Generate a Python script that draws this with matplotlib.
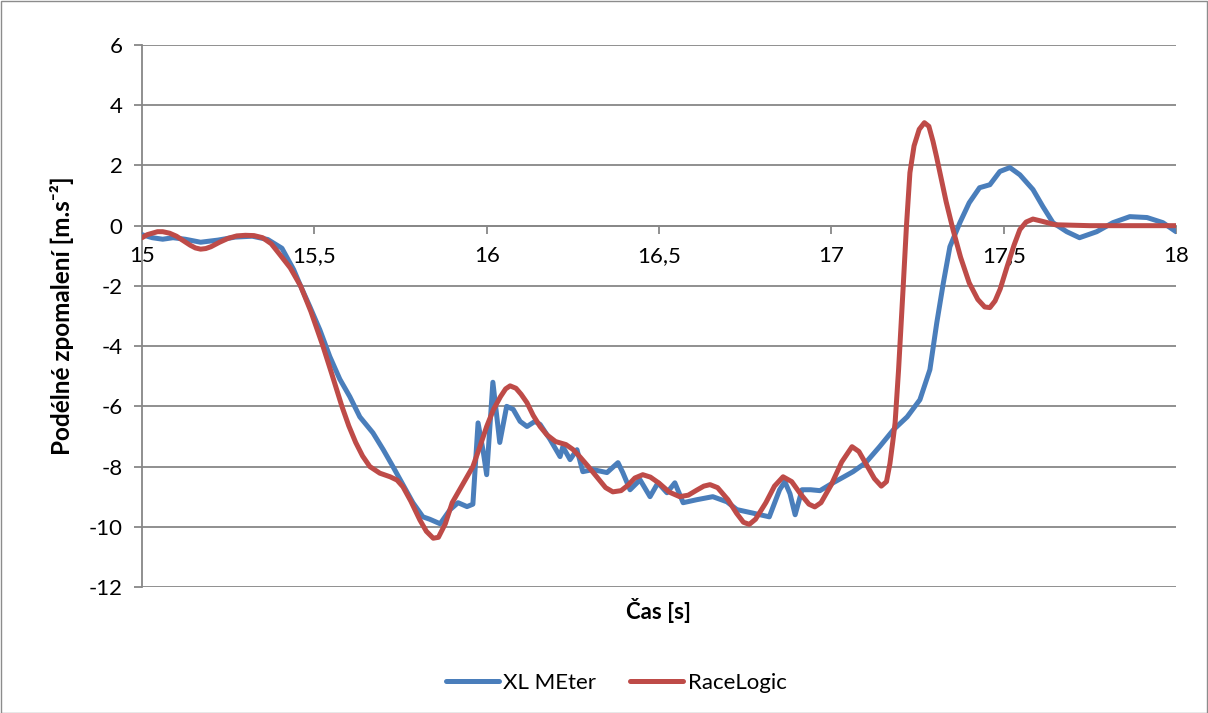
import matplotlib
matplotlib.use('Agg')
import matplotlib.pyplot as plt
from matplotlib.patches import Rectangle

# XL Meter - namerene podelne zpomaleni
xl_time = [15.0, 15.03, 15.06, 15.09, 15.125, 15.17, 15.22, 15.27, 15.32, 15.365, 15.406,
           15.44, 15.46, 15.487, 15.516, 15.545, 15.574, 15.603, 15.632, 15.67, 15.70,
           15.728, 15.757, 15.786, 15.815, 15.835, 15.865, 15.894, 15.917, 15.943, 15.96,
           15.975, 15.99, 16.0, 16.018, 16.038, 16.058, 16.077, 16.097, 16.117, 16.14,
           16.155, 16.184, 16.213, 16.221, 16.242, 16.262, 16.279, 16.308, 16.349, 16.381,
           16.395, 16.416, 16.445, 16.474, 16.497, 16.523, 16.546, 16.57, 16.61, 16.656,
           16.697, 16.726, 16.77, 16.82, 16.85, 16.865, 16.88, 16.895, 16.915, 16.94,
           16.967, 17.005, 17.035, 17.063, 17.1, 17.14, 17.18, 17.22, 17.257, 17.286,
           17.306, 17.325, 17.344, 17.373, 17.40, 17.43, 17.46, 17.489, 17.518, 17.547,
           17.585, 17.614, 17.643, 17.683, 17.72, 17.77, 17.817, 17.866, 17.916, 17.962,
           18.0]
xl_acc = [-0.3, -0.4, -0.45, -0.4, -0.45, -0.55, -0.48, -0.38, -0.35, -0.46, -0.75,
          -1.46, -2.0, -2.69, -3.46, -4.35, -5.1, -5.68, -6.35, -6.88, -7.44,
          -8.0, -8.6, -9.2, -9.67, -9.75, -9.9, -9.43, -9.2, -9.33, -9.25,
          -6.55, -7.5, -8.27, -5.2, -7.2, -6.0, -6.1, -6.5, -6.67, -6.5,
          -6.6, -7.1, -7.67, -7.34, -7.77, -7.44, -8.17, -8.1, -8.2, -7.87,
          -8.2, -8.77, -8.44, -9.0, -8.54, -8.87, -8.54, -9.2, -9.1, -9.0,
          -9.17, -9.43, -9.54, -9.67, -8.77, -8.5, -8.9, -9.6, -8.77, -8.77,
          -8.8, -8.54, -8.35, -8.17, -7.87, -7.34, -6.78, -6.35, -5.78, -4.78,
          -3.22, -1.9, -0.7, 0.1, 0.76, 1.26, 1.36, 1.8, 1.93, 1.69,
          1.2, 0.63, 0.1, -0.2, -0.4, -0.2, 0.1, 0.3, 0.27, 0.1,
          -0.2]

# RaceLogic
rl_time = [15.0, 15.015, 15.03, 15.045, 15.06, 15.08, 15.1, 15.12, 15.14, 15.155, 15.17,
           15.185, 15.2, 15.225, 15.25, 15.275, 15.3, 15.325, 15.35, 15.375, 15.40,
           15.43, 15.46, 15.49, 15.525, 15.55, 15.58, 15.60, 15.62, 15.64, 15.661,
           15.69, 15.72, 15.74, 15.757, 15.78, 15.806, 15.825, 15.845, 15.86, 15.88,
           15.90, 15.93, 15.96, 15.98, 16.0, 16.02, 16.04, 16.055, 16.068, 16.085,
           16.1, 16.117, 16.135, 16.155, 16.175, 16.2, 16.23, 16.25, 16.27, 16.295,
           16.32, 16.345, 16.366, 16.39, 16.41, 16.43, 16.453, 16.475, 16.5, 16.53,
           16.56, 16.585, 16.61, 16.63, 16.648, 16.67, 16.7, 16.725, 16.745, 16.762,
           16.78, 16.81, 16.835, 16.86, 16.885, 16.91, 16.935, 16.952, 16.97, 17.0,
           17.03, 17.06, 17.08, 17.1, 17.125, 17.145, 17.16, 17.17, 17.178, 17.185,
           17.195, 17.208, 17.218, 17.228, 17.24, 17.255, 17.27, 17.283, 17.295, 17.305,
           17.315, 17.333, 17.353, 17.375, 17.40, 17.425, 17.445, 17.46, 17.475, 17.49,
           17.51, 17.53, 17.547, 17.565, 17.585, 17.61, 17.65, 17.75, 18.0]
rl_acc = [-0.4, -0.3, -0.25, -0.2, -0.2, -0.25, -0.35, -0.5, -0.65, -0.74, -0.78,
          -0.76, -0.7, -0.55, -0.42, -0.34, -0.32, -0.33, -0.4, -0.6, -0.96,
          -1.4, -2.0, -2.85, -4.0, -4.9, -6.0, -6.65, -7.2, -7.65, -8.0,
          -8.22, -8.34, -8.45, -8.67, -9.15, -9.77, -10.15, -10.38, -10.35, -9.9,
          -9.2, -8.6, -8.0, -7.35, -6.67, -6.1, -5.68, -5.42, -5.32, -5.4,
          -5.6, -5.88, -6.3, -6.67, -6.95, -7.17, -7.27, -7.43, -7.67, -8.0,
          -8.35, -8.7, -8.84, -8.8, -8.62, -8.38, -8.27, -8.35, -8.55, -8.85,
          -9.0, -8.95, -8.78, -8.65, -8.6, -8.7, -9.1, -9.55, -9.85, -9.92,
          -9.75, -9.2, -8.65, -8.34, -8.5, -8.9, -9.25, -9.34, -9.2, -8.6,
          -7.85, -7.34, -7.5, -7.9, -8.4, -8.65, -8.5, -7.9, -7.2, -6.55,
          -4.8, -2.13, 0.0, 1.76, 2.65, 3.2, 3.42, 3.3, 2.8, 2.3,
          1.76, 0.8, -0.13, -1.05, -1.9, -2.45, -2.7, -2.72, -2.5, -2.1,
          -1.36, -0.65, -0.13, 0.12, 0.22, 0.15, 0.03, 0.0, 0.0]

x_ticks = [15, 15.5, 16, 16.5, 17, 17.5, 18]
x_tick_labels = ['15', '15,5', '16', '16,5', '17', '17,5', '18']
y_ticks = [-12, -10, -8, -6, -4, -2, 0, 2, 4, 6]

plt.rcParams['font.family'] = ['Lato', 'DejaVu Sans']
plt.rcParams['axes.unicode_minus'] = False

fig = plt.figure(figsize=(12.08, 7.13), dpi=100)
ax = fig.add_axes([142 / 1208, 1 - 587 / 713, (1176 - 142) / 1208, (587 - 45) / 713])

grid_col = '#878787'
for yv in y_ticks:
    ax.axhline(yv, color=grid_col, lw=1.3, zorder=1)

ax.plot(xl_time, xl_acc, color='#4A7EBB', lw=3.6, label='XL MEter', zorder=3,
        solid_joinstyle='round', solid_capstyle='round')
ax.plot(rl_time, rl_acc, color='#BE4B48', lw=3.6, label='RaceLogic', zorder=4,
        solid_joinstyle='round', solid_capstyle='round')

ax.set_xlim(15, 18)
ax.set_ylim(-12, 6)
ax.set_xticks(x_ticks)
ax.set_xticklabels(x_tick_labels)
ax.set_yticks(y_ticks)

ax.spines['top'].set_visible(False)
ax.spines['right'].set_visible(False)
ax.spines['bottom'].set_position(('data', 0))
ax.spines['bottom'].set_color(grid_col)
ax.spines['left'].set_color(grid_col)
ax.spines['bottom'].set_linewidth(1.3)
ax.spines['left'].set_linewidth(1.3)
ax.tick_params(axis='both', direction='out', color=grid_col, length=6, width=1.3,
               labelsize=16, labelcolor='black')
ax.tick_params(axis='x', pad=9)
ax.tick_params(axis='y', pad=8)

ax.set_xlabel('Čas [s]', fontsize=16, fontweight='bold')
ax.xaxis.set_label_coords(0.5, -0.02)
ax.set_ylabel('Podélné zpomalení [m.s⁻²]', fontsize=17.5, fontweight='bold')
ax.yaxis.set_label_coords(-0.066, 0.5)

fig.legend(loc='center', bbox_to_anchor=(616 / 1208, 1 - 683 / 713), ncol=2,
           frameon=False, fontsize=16, handlelength=2.4, handletextpad=0.2,
           columnspacing=1.5)

fig.patches.append(Rectangle((0.5 / 1208, 0.5 / 713), 1 - 1.5 / 1208, 1 - 1.5 / 713,
                             transform=fig.transFigure, fill=False,
                             edgecolor='#8c8c8c', lw=1))

fig.savefig('out.png', dpi=100)
